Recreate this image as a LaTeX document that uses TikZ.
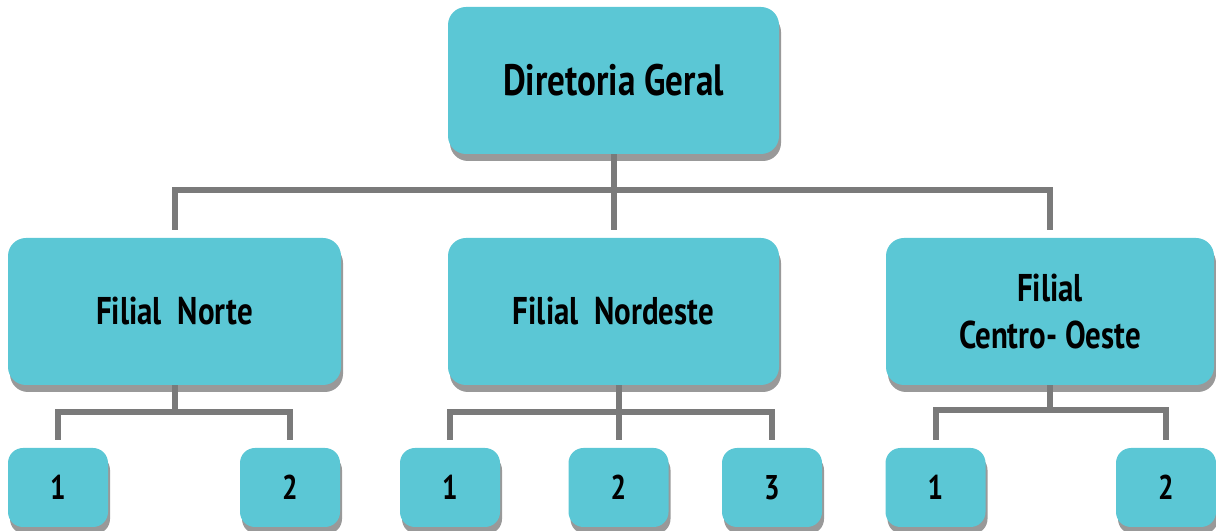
\documentclass[tikz,border=0pt]{standalone}
\usepackage{fontspec}
\setmainfont{PT Sans}[FakeStretch=0.8]
\usetikzlibrary{shadows}

\definecolor{boxblue}{HTML}{5BC7D5}
\definecolor{linegray}{HTML}{7A7A7A}

\begin{document}
\begin{tikzpicture}[
    box/.style={rounded corners=0.36cm, fill=boxblue, font=\bfseries,
        general shadow={fill=gray!80, shadow xshift=0.04cm, shadow yshift=-0.14cm},
        align=center, inner sep=0pt},
    bigbox/.style={box, minimum width=6.62cm, minimum height=2.94cm, font=\bfseries\fontsize{22}{27}\selectfont},
    small/.style={box, rounded corners=0.3cm, minimum width=2cm, minimum height=1.58cm, font=\bfseries\fontsize{19.5}{22}\selectfont},
    link/.style={draw=linegray, line width=0.12cm, shorten >=0.16cm}
]
\useasboundingbox (0,0) rectangle (24.32,10.62);

    \node[bigbox, font=\bfseries\fontsize{25}{30}\selectfont] (dg) at (12.27,9.01) {Diretoria Geral};

    \node[bigbox, minimum width=6.66cm] (fn) at (3.49,4.39) {Filial\ \ Norte};
    \node[bigbox] (fne) at (12.27,4.39) {Filial\ \ Nordeste};
    \node[bigbox, minimum width=6.56cm] (fco) at (21.0,4.39) {Filial\\Centro- Oeste};

    \node[small] (n1) at (1.16,0.87) {1};
    \node[small] (n2) at (5.80,0.87) {2};
    \node[small] (ne1) at (9.00,0.87) {1};
    \node[small] (ne2) at (12.37,0.87) {2};
    \node[small] (ne3) at (15.44,0.87) {3};
    \node[small] (co1) at (18.71,0.87) {1};
    \node[small] (co2) at (23.32,0.87) {2};

    % diretoria -> filiais
    \path[link] (dg.south) -- ++(0,-0.72) -| (fn.north);
    \path[link] (dg.south) -- ++(0,-0.72) -| (fco.north);
    \path[link] (dg.south) -- (fne.north);

    % filiais -> unidades
    \path[link] (fn.south) -- ++(0,-0.54) -| (n1.north);
    \path[link] (fn.south) -- ++(0,-0.54) -| (n2.north);

    \path[link] (fne.south -| ne2.north) -- ++(0,-0.54) -| (ne1.north);
    \path[link] (fne.south -| ne2.north) -- ++(0,-0.54) -| (ne3.north);
    \path[link] (fne.south -| ne2.north) -- (ne2.north);

    \path[link] (fco.south) -- ++(0,-0.5) -| (co1.north);
    \path[link] (fco.south) -- ++(0,-0.5) -| (co2.north);
\end{tikzpicture}
\end{document}
